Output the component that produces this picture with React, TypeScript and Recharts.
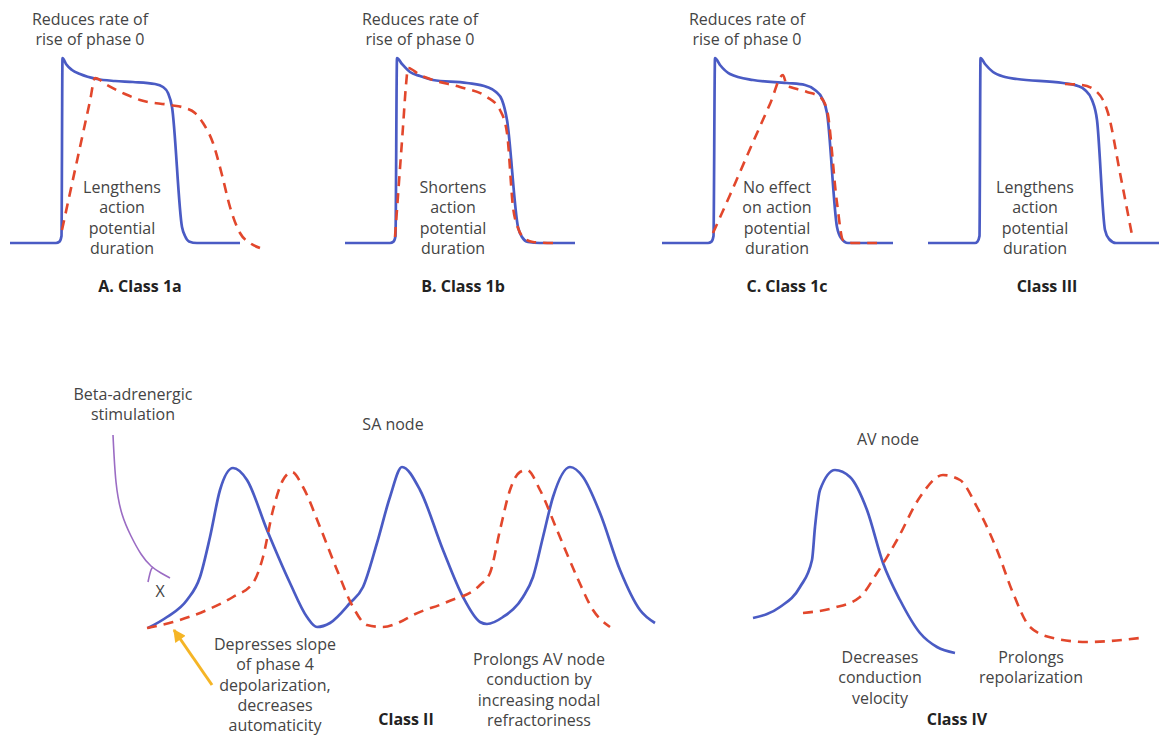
import React from 'react';
import { LineChart, Line, XAxis, YAxis } from 'recharts';

// time in ms (t), membrane potential in mV (v)
const classIaControl = [[20,-90],[112,-90],[119,-89.3],[123,-86.5],[125,2.5],[132,-0.5],[144,-3.5],[160,-5.5],[194,-8],[230,-9],[266,-9.5],[310,-10.5],[326,-12],[336,-15],[344,-22],[364,-82],[370,-86.5],[378,-89.2],[394,-90],[480,-90]];
const classIaDrug = [[124,-83.5],[140,-65],[160,-42],[180,-19],[190,-7.5],[214,-11],[250,-15.5],[280,-18.5],[340,-21],[370,-22.5],[390,-25],[406,-30],[426,-40],[444,-56],[460,-72],[480,-85],[500,-90],[520,-92.5]];
const classIbControl = [[690,-90],[780,-90],[787,-89.3],[791,-86.5],[794,2.5],[804,-0.5],[820,-4.5],[840,-6.5],[866,-8.5],[934,-10],[974,-12],[992,-14.5],[1004,-18.5],[1014,-28.5],[1036,-82],[1044,-87],[1056,-89.5],[1080,-90],[1150,-90]];
const classIbDrug = [[790,-87],[798,-59.5],[806,-32],[812,-11],[816,-2.5],[840,-6],[866,-8.5],[920,-12],[974,-17],[1000,-23.5],[1014,-35],[1026,-72],[1036,-82.5],[1046,-87],[1066,-89.5],[1106,-90]];
const classIcControl = [[1324,-90],[1416,-90],[1423,-89.3],[1427,-86.5],[1430,2.5],[1440,-1],[1460,-5.5],[1506,-8.5],[1574,-10],[1610,-11],[1630,-13.5],[1644,-17.5],[1654,-25],[1674,-82],[1682,-87.5],[1696,-90],[1786,-90]];
const classIcDrug = [[1426,-85],[1460,-66],[1500,-43],[1540,-20.5],[1566,-6],[1574,-11.5],[1580,-12],[1614,-14.5],[1640,-17],[1654,-23.5],[1674,-70],[1686,-88.5],[1706,-90],[1754,-90]];
const classIIIControl = [[1856,-90],[1950,-90],[1955,-89.3],[1959,-86.5],[1961,2.5],[1970,-0.5],[1986,-4.5],[2010,-7],[2034,-8],[2126,-10],[2156,-11.5],[2170,-13.5],[2184,-18.5],[2194,-28.5],[2210,-83.5],[2218,-88],[2232,-90],[2318,-90]];
const classIIIDrug = [[2130,-10.5],[2164,-11],[2194,-14.5],[2206,-18.5],[2216,-25],[2240,-55],[2264,-86]];

const saNodeControl = [[296,-65],[334,-59.5],[374,-51],[400,-39.5],[420,-19.5],[440,4],[466,15],[494,9],[534,-16],[580,-42.5],[614,-59.5],[634,-64.5],[660,-62.5],[700,-52.5],[726,-44.5],[754,-22.5],[780,0.5],[804,15.5],[840,4],[886,-26],[926,-49.5],[960,-62],[974,-63],[1006,-59.5],[1046,-49.5],[1066,-39.5],[1086,-19.5],[1106,0.5],[1140,15.5],[1166,10.5],[1200,-7.5],[1240,-36],[1280,-56],[1310,-62.5]];
const saNodeDrug = [[294,-65],[346,-62],[414,-56],[466,-49.5],[506,-42.5],[526,-29.5],[546,-6],[566,9],[584,13],[606,5.5],[640,-14.5],[674,-36],[706,-54.5],[734,-63.5],[766,-64.5],[800,-62],[826,-58.5],[894,-52],[960,-43.5],[980,-37.5],[1000,-16],[1020,4],[1040,13],[1054,14],[1080,4],[1114,-16],[1154,-39.5],[1186,-56],[1220,-64.5]];
const avNodeControl = [[1506,-60],[1560,-54.5],[1600,-44.5],[1624,-31],[1630,-14.5],[1640,4],[1670,14],[1700,10.5],[1734,-6],[1766,-32.5],[1800,-51],[1840,-67.5],[1874,-74.5],[1910,-77.5]];
const avNodeDrug = [[1606,-57.5],[1666,-55],[1720,-49.5],[1754,-37.5],[1794,-21],[1840,0.5],[1886,11.5],[1920,9],[1954,-4.5],[1994,-26],[2026,-47.5],[2060,-64.5],[2106,-70],[2174,-72],[2280,-70]];
const betaStim = [[226,31.5],[232,8],[244,-8],[262,-19],[282,-28],[302,-34],[322,-37.5],[340,-40]];
const betaFork = [[296,-42],[302,-36],[306,-34.5]];
const slopeArrow = [[424,-93.5],[348,-66]];

const pts = (rows: number[][]) => rows.map(([t, v]) => ({ t, v }));

const BLUE = '#4a5bc4';
const RED = '#e2472c';
const PURPLE = '#9b6cc4';
const YELLOW = '#f5b526';
const TEXT = '#444';

const Note = ({ x, y, lines, bold = false, size = 16 }: { x: number; y: number; lines: string[]; bold?: boolean; size?: number }) => (
  <div
    style={{
      position: 'absolute',
      left: x,
      top: y,
      transform: 'translateX(-50%)',
      textAlign: 'center',
      whiteSpace: 'nowrap',
      lineHeight: '20.3px',
      fontSize: size,
      fontWeight: bold ? 700 : 400,
      color: bold ? '#222' : TEXT,
    }}
  >
    {lines.map((l) => (
      <div key={l}>{l}</div>
    ))}
  </div>
);

const solid = (rows: number[][], key: string) => (
  <Line key={key} data={pts(rows)} dataKey="v" type="monotone" stroke={BLUE} strokeWidth={2.7} dot={false} activeDot={false} isAnimationActive={false} />
);
const dashed = (rows: number[][], key: string) => (
  <Line key={key} data={pts(rows)} dataKey="v" type="monotone" stroke={RED} strokeWidth={2.6} strokeDasharray="10 7" dot={false} activeDot={false} isAnimationActive={false} />
);

const m = { top: 0, right: 0, bottom: 0, left: 0 };

export default function App() {
  return (
    <div style={{ position: 'absolute', left: 0, top: 0, width: 1159, height: 738, background: '#fff', fontFamily: '"Open Sans", Lato, sans-serif', overflow: 'hidden' }}>
      <div style={{ position: 'absolute', left: 0, top: 0 }}>
        <LineChart width={1159} height={300} margin={m}>
          <XAxis type="number" dataKey="t" domain={[0, 2318]} hide />
          <YAxis type="number" domain={[-118.5, 31.5]} hide />
          {solid(classIaControl, 'a1')}
          {dashed(classIaDrug, 'a2')}
          {solid(classIbControl, 'b1')}
          {dashed(classIbDrug, 'b2')}
          {solid(classIcControl, 'c1')}
          {dashed(classIcDrug, 'c2')}
          {solid(classIIIControl, 'd1')}
          {dashed(classIIIDrug, 'd2')}
        </LineChart>
      </div>
      <div style={{ position: 'absolute', left: 0, top: 370 }}>
        <LineChart width={1159} height={368} margin={m}>
          <defs>
            <marker id="arrowHead" viewBox="0 0 10 10" refX="9" refY="5" markerWidth="4.6" markerHeight="4.2" orient="auto">
              <path d="M0,0 L10,5 L0,10 z" fill={YELLOW} />
            </marker>
          </defs>
          <XAxis type="number" dataKey="t" domain={[0, 2318]} hide />
          <YAxis type="number" domain={[-120, 64]} hide />
          {solid(saNodeControl, 'sa1')}
          {dashed(saNodeDrug, 'sa2')}
          {solid(avNodeControl, 'av1')}
          {dashed(avNodeDrug, 'av2')}
          <Line data={pts(betaStim)} dataKey="v" type="natural" stroke={PURPLE} strokeWidth={1.6} dot={false} activeDot={false} isAnimationActive={false} />
          <Line data={pts(betaFork)} dataKey="v" type="monotone" stroke={PURPLE} strokeWidth={1.6} dot={false} activeDot={false} isAnimationActive={false} />
          <Line data={pts(slopeArrow)} dataKey="v" type="linear" stroke={YELLOW} strokeWidth={3} markerEnd="url(#arrowHead)" dot={false} activeDot={false} isAnimationActive={false} />
        </LineChart>
      </div>

      <Note x={90} y={9} lines={['Reduces rate of', 'rise of phase 0']} />
      <Note x={420} y={9} lines={['Reduces rate of', 'rise of phase 0']} />
      <Note x={747} y={9} lines={['Reduces rate of', 'rise of phase 0']} />

      <Note x={122} y={177} lines={['Lengthens', 'action', 'potential', 'duration']} />
      <Note x={453} y={177} lines={['Shortens', 'action', 'potential', 'duration']} />
      <Note x={777} y={177} lines={['No effect', 'on action', 'potential', 'duration']} />
      <Note x={1035} y={177} lines={['Lengthens', 'action', 'potential', 'duration']} />

      <Note x={140} y={276} lines={['A. Class 1a']} bold />
      <Note x={463} y={276} lines={['B. Class 1b']} bold />
      <Note x={787} y={276} lines={['C. Class 1c']} bold />
      <Note x={1047} y={276} lines={['Class III']} bold />

      <Note x={133} y={384} lines={['Beta-adrenergic', 'stimulation']} />
      <Note x={160} y={581} lines={['X']} />
      <Note x={393} y={414} lines={['SA node']} />
      <Note x={275} y={634} lines={['Depresses slope', 'of phase 4', 'depolarization,', 'decreases', 'automaticity']} />
      <Note x={406} y={709} lines={['Class II']} bold />
      <Note x={539} y={649} lines={['Prolongs AV node', 'conduction by', 'increasing nodal', 'refractoriness']} />

      <Note x={888} y={429} lines={['AV node']} />
      <Note x={880} y={647} lines={['Decreases', 'conduction', 'velocity']} />
      <Note x={1031} y={647} lines={['Prolongs', 'repolarization']} />
      <Note x={957} y={709} lines={['Class IV']} bold />
    </div>
  );
}
